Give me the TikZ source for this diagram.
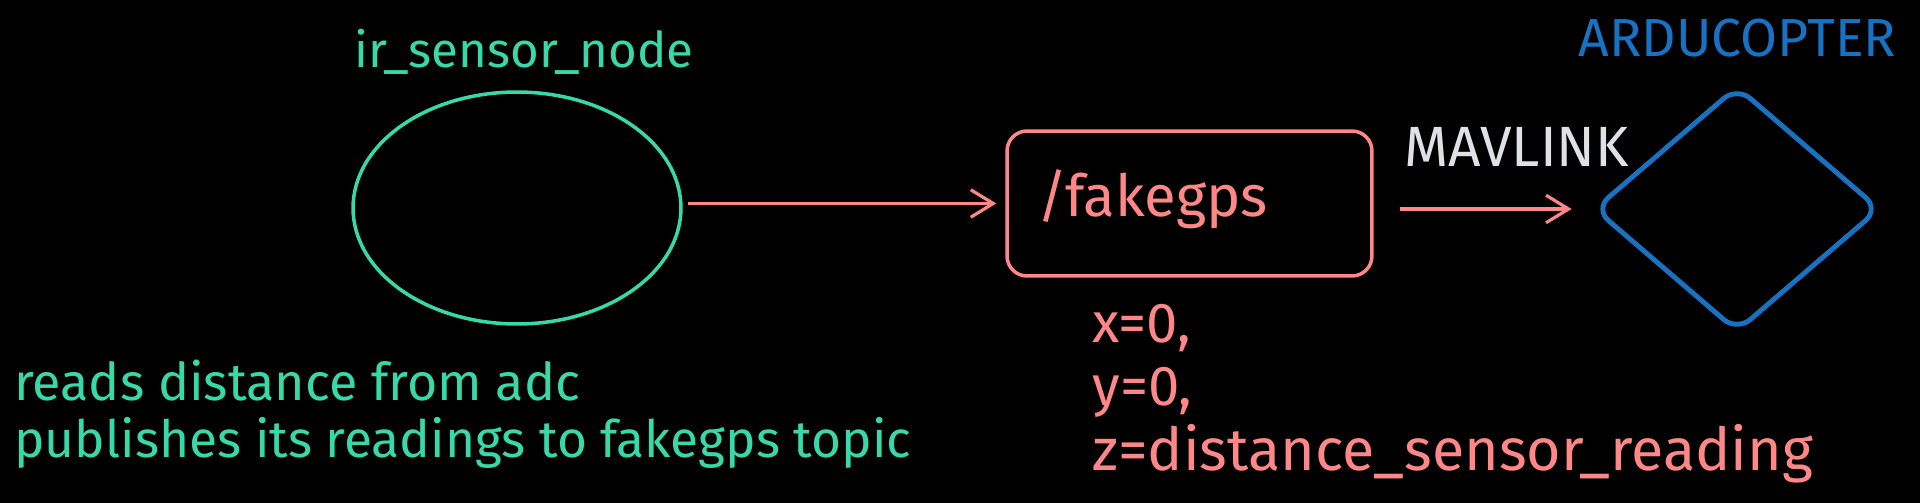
\documentclass[tikz,border=0pt]{standalone}
\usepackage{fontspec}
\setmainfont{Fira Sans}
\usepackage{xcolor}
\usetikzlibrary{arrows.meta, positioning, shapes.geometric}

\definecolor{exgreen}{HTML}{38D9A9}
\definecolor{exred}{HTML}{FF8787}
\definecolor{exblue}{HTML}{1971C2}
\definecolor{exgrey}{HTML}{DEE2E6}

\begin{document}
\begin{tikzpicture}[
    x=0.02cm, y=-0.02cm,
    txt/.style={font=\fontsize{#1}{#1}\selectfont, inner sep=0, anchor=base west},
    shapeline/.style={draw=#1, line width=2pt, inner sep=0},
    arr/.style={-{Straight Barb[length=0.45cm, width=0.55cm]}, line width=1.8pt, exred},
]
% Canvas
\path[use as bounding box, fill=black] (0,0) rectangle (1920,503);

% Shapes
\node[shapeline=exgreen, ellipse, minimum width=6.56cm, minimum height=4.64cm] (sensor) at (517,208) {};
\node[shapeline=exred, rounded corners=0.4cm, minimum width=7.3cm, minimum height=2.9cm] (fakegps) at (1189.5,203.5) {};
\node[shapeline=exblue, line width=2.8pt, diamond, rounded corners=0.35cm, minimum width=5.72cm, minimum height=4.92cm] (copter) at (1737,209) {};

% Arrows
\draw[arr, shorten <=0.1cm, shorten >=0.18cm] (fakegps.west -| sensor.east) -- (fakegps.west);
\draw[arr, shorten <=0.52cm, shorten >=0.4cm] (fakegps.east |- copter.west) -- (copter.west);

% Labels
\node[txt=28, exgreen] (sensorlbl) at (354,68) {ir\_sensor\_node};
\node[txt=29.6, exgreen] (desc1) at (14,400) {reads distance from adc};
\node[txt=29.3, exgreen] (desc2) at (14,457) {publishes its readings to fakegps topic};
\node[txt=33, exred] (topic) at (1037,217) {/fakegps};
\node[txt=32.3, exgrey] (link) at (1404,167) {MAVLINK};
\node[txt=30.5, exblue] (copterlbl) at (1578,57) {ARDUCOPTER};
\node[txt=32, exred] (xval) at (1092,342) {x=0,};
\node[txt=32, exred] (yval) at (1092,405) {y=0,};
\node[txt=33.7, exred] (zval) at (1092,470) {z=distance\_sensor\_reading};

\end{tikzpicture}
\end{document}
